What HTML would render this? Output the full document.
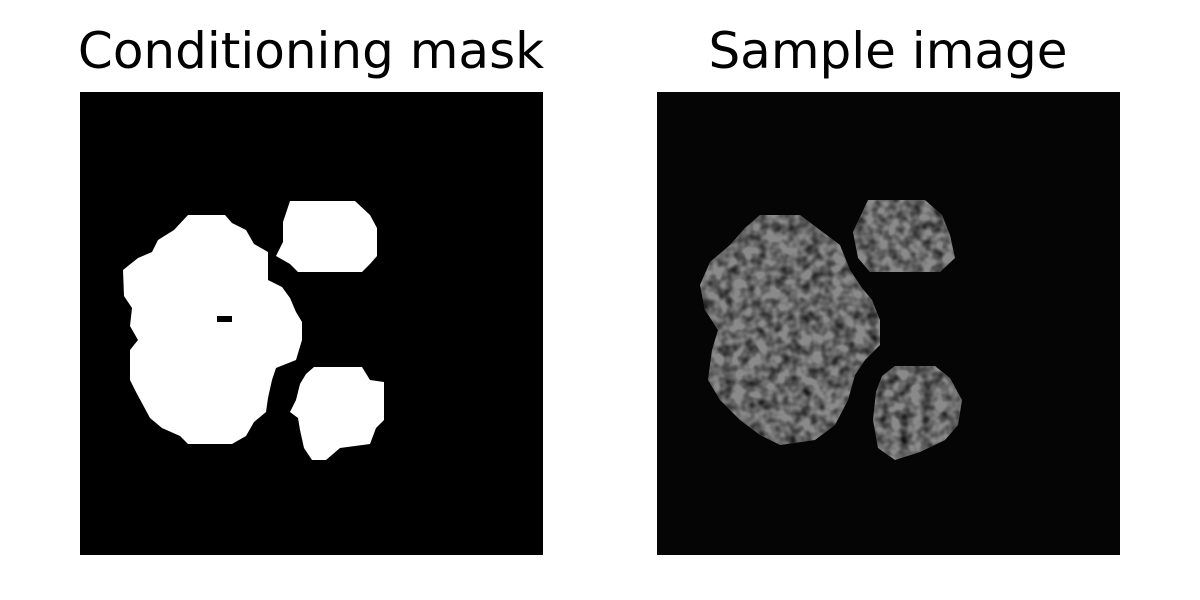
<!DOCTYPE html>
<html><head><meta charset="utf-8"><style>
html,body{margin:0;padding:0;background:#fff;}
svg{display:block}
</style></head><body>
<svg width="1200" height="600" viewBox="0 0 1200 600" xmlns="http://www.w3.org/2000/svg">
<defs>
<filter id="noise" x="0" y="0" width="100%" height="100%">
<feTurbulence type="fractalNoise" baseFrequency="0.09" numOctaves="2" seed="4" result="t"/>
<feColorMatrix in="t" type="matrix" values="0 0 0 0 0  0 0 0 0 0  0 0 0 0 0  0 0 0 -1.6 1.05" result="a"/>
<feComposite in="a" in2="SourceGraphic" operator="in"/>
</filter>
</defs>
<text x="311" y="68" text-anchor="middle" font-family="DejaVu Sans, Liberation Sans, sans-serif" font-size="50" fill="#000">Conditioning mask</text>
<text x="888" y="68" text-anchor="middle" font-family="DejaVu Sans, Liberation Sans, sans-serif" font-size="50" fill="#000">Sample image</text>

<g>
<rect x="80" y="92" width="463" height="463" fill="#000"/>
<path fill="#fff" fill-rule="evenodd" d="M188,215 L225,215 L232,223 L246,230 L254,244 L268,252 L268,280 L282,287 L290,298 L296,312 L302,322 L302,340 L296,360 L276,368 L272,380 L268,398 L266,412 L254,422 L246,436 L232,444 L188,444 L180,436 L162,428 L150,418 L136,392 L130,380 L130,350 L138,340 L130,326 L132,308 L124,296 L123,270 L138,258 L152,252 L158,240 L174,230 Z M217,316 L232,316 L232,322 L217,322 Z"/>
<path fill="#fff" d="M290,201 L355,201 L370,215 L377,228 L377,256 L370,264 L362,272 L298,272 L290,264 L276,256 L283,242 L283,222 Z"/>
<path fill="#fff" d="M314,367 L362,367 L370,380 L384,382 L384,420 L376,428 L370,444 L340,448 L326,460 L312,460 L304,448 L300,430 L298,418 L290,412 L296,400 L300,384 L306,374 Z"/>
</g>

<g>
<rect x="657" y="92" width="463" height="463" fill="#050505"/>
<g fill="#8a8a8a">
<path d="M760,215 L800,215 L820,230 L840,245 L850,270 L862,288 L872,300 L880,320 L880,345 L865,360 L855,375 L848,400 L835,425 L815,440 L780,445 L760,435 L740,420 L720,400 L708,380 L712,350 L718,330 L705,310 L700,285 L710,262 L730,245 L745,228 Z"/>
<path d="M868,200 L925,200 L942,215 L950,235 L955,258 L940,272 L870,272 L858,258 L853,232 Z"/>
<path d="M895,366 L935,366 L950,378 L962,400 L958,425 L945,440 L920,452 L895,460 L878,448 L873,420 L876,392 L882,376 Z"/>
</g>
<g filter="url(#noise)" fill="#000">
<path d="M760,215 L800,215 L820,230 L840,245 L850,270 L862,288 L872,300 L880,320 L880,345 L865,360 L855,375 L848,400 L835,425 L815,440 L780,445 L760,435 L740,420 L720,400 L708,380 L712,350 L718,330 L705,310 L700,285 L710,262 L730,245 L745,228 Z"/>
<path d="M868,200 L925,200 L942,215 L950,235 L955,258 L940,272 L870,272 L858,258 L853,232 Z"/>
<path d="M895,366 L935,366 L950,378 L962,400 L958,425 L945,440 L920,452 L895,460 L878,448 L873,420 L876,392 L882,376 Z"/>
</g>
</g>
</svg>
</body></html>
